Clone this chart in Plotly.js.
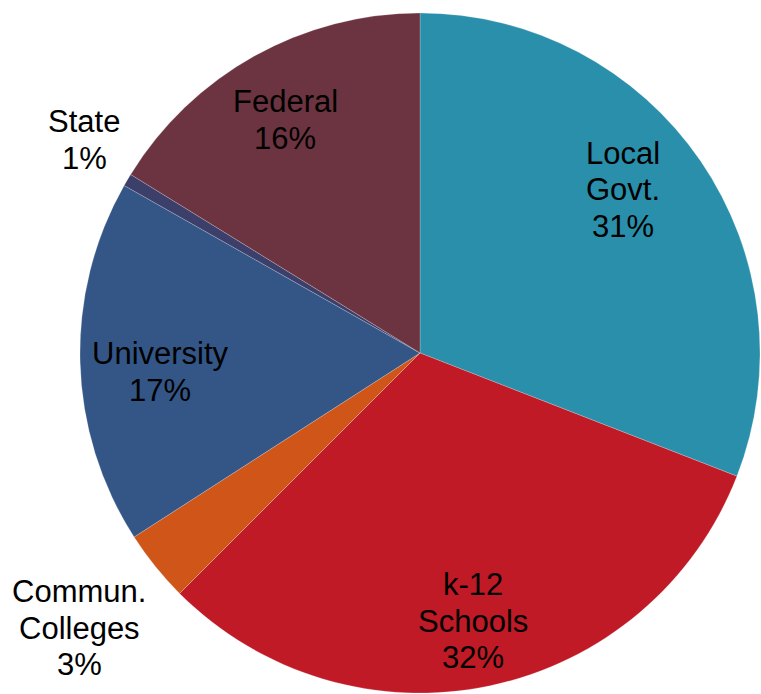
<!DOCTYPE html>
<html>
<head>
<meta charset="utf-8">
<script src="https://cdn.plot.ly/plotly-3.0.1.min.js"></script>
<style>html,body{margin:0;padding:0;background:#fff;}#chart{width:761px;height:694px;}</style>
</head>
<body>
<div id="chart"></div>
<script>
const categories = ["Local<br>Govt.", "k-12<br>Schools", "Commun.<br>Colleges", "University", "State", "Federal"];
const shares = [30.9, 31.6, 3.4, 17.3, 0.6, 16.2];
const colors = ["#2A8FAA", "#BF1A25", "#CF5618", "#335687", "#3D3F6B", "#6C3440"];
// label block centres (pixels) — layout only
const labelCenters = [[623, 190], [473, 621], [79, 628], [160, 372], [84, 140], [285, 120]];

const W = 761, H = 694;
const LINE = 36.5;
const FONT = {family: "Liberation Sans, Arial, sans-serif", size: 31, color: "#000"};

const trace = {
  type: "pie",
  labels: categories,
  values: shares,
  sort: false,
  direction: "clockwise",
  rotation: 0,
  marker: {colors: colors, line: {color: "rgba(255,255,255,0.35)", width: 0.6}},
  textinfo: "none",
  hoverinfo: "label+percent",
  domain: {x: [80/W, 760/W], y: [1 - 693/H, 1 - 13/H]},
  automargin: false
};

const total = shares.reduce((a, b) => a + b, 0);
const annotations = [];
categories.forEach((c, i) => {
  const lines = c.split("<br>").concat([Math.round(shares[i] / total * 100) + "%"]);
  const [cx, cy] = labelCenters[i];
  lines.forEach((t, j) => {
    const y = cy + (j - (lines.length - 1) / 2) * LINE;
    annotations.push({
      text: t, x: cx / W, y: 1 - y / H, xref: "paper", yref: "paper",
      xanchor: "center", yanchor: "middle", showarrow: false, font: FONT
    });
  });
});

Plotly.newPlot("chart", [trace], {
  width: W, height: H,
  margin: {l: 0, r: 0, t: 0, b: 0},
  showlegend: false,
  paper_bgcolor: "#fff",
  annotations: annotations
}, {displayModeBar: false, staticPlot: true});
</script>
</body>
</html>
